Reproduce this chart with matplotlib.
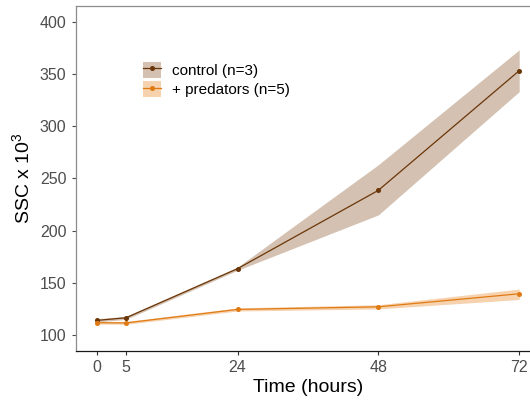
import matplotlib
matplotlib.use("Agg")
import matplotlib.pyplot as plt
from matplotlib.patches import Patch
from matplotlib.lines import Line2D

plt.rcParams["font.family"] = ["Liberation Sans", "DejaVu Sans"]

# data
hours = [0, 5, 24, 48, 72]
control_mean = [114, 116.5, 163.5, 238.5, 353]
control_lo = [112.5, 115, 162, 215, 333]
control_hi = [115.5, 118, 165, 263, 373]
pred_mean = [111.8, 111.6, 124.5, 127, 139.5]
pred_lo = [110.5, 110.3, 123, 125, 134]
pred_hi = [113, 113, 126, 129, 144]
series_labels = ["control (n=3)", "+ predators (n=5)"]
xticks = [0, 5, 24, 48, 72]
yticks = [100, 150, 200, 250, 300, 350, 400]

c_line = "#6b3608"
c_band = "#d4c1b1"
p_line = "#e07b14"
p_band = "#f6d2ae"

fig = plt.figure(figsize=(5.3, 4.03), dpi=100)
ax = fig.add_axes([0.1425, 0.129, 0.877, 0.857])

ax.fill_between(hours, control_lo, control_hi, color=c_band, lw=0)
ax.fill_between(hours, pred_lo, pred_hi, color=p_band, lw=0)
ax.plot(hours, control_mean, color=c_line, lw=0.9, marker="o", ms=2.6)
ax.plot(hours, pred_mean, color=p_line, lw=0.9, marker="o", ms=2.6)

ax.set_xlim(-3.6, 75.6)
ax.set_ylim(84.7, 415.3)
ax.set_xticks(xticks)
ax.set_yticks(yticks)
ax.tick_params(labelsize=11.5, colors="#4d4d4d", length=3, width=0.8)
ax.tick_params(axis="x", colors="#333333", labelcolor="#4d4d4d")

for s in ["left", "top"]:
    ax.spines[s].set_color("#8c8c8c")
    ax.spines[s].set_linewidth(0.9)
ax.spines["bottom"].set_color("#1a1a1a")
ax.spines["bottom"].set_linewidth(0.9)
ax.spines["right"].set_visible(False)

ax.set_xlabel("Time (hours)", fontsize=14, labelpad=3)
ax.set_ylabel(r"SSC x 10$^{\mathregular{3}}$", fontsize=14, labelpad=4)

handles = [
    (Patch(color=c_band, lw=0), Line2D([], [], color=c_line, lw=0.9, marker="o", ms=2.6)),
    (Patch(color=p_band, lw=0), Line2D([], [], color=p_line, lw=0.9, marker="o", ms=2.6)),
]
ax.legend(handles, series_labels, loc="upper left", bbox_to_anchor=(0.259, 0.862),
          bbox_transform=fig.transFigure, frameon=False, fontsize=11,
          handlelength=1.15, handleheight=1.25, handletextpad=0.75,
          labelspacing=0.2, borderaxespad=0)

fig.savefig("out.png", dpi=100, facecolor="white")
